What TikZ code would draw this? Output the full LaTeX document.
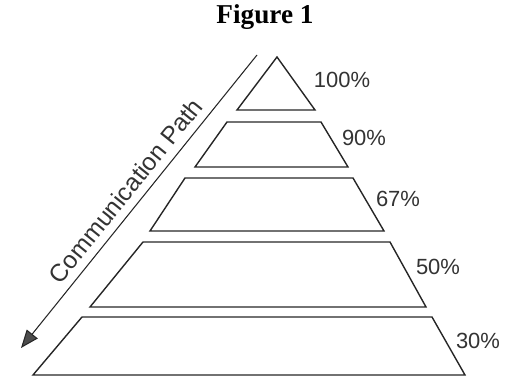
\documentclass[tikz,border=0pt]{standalone}
\usepackage{fontspec}
\setmainfont{Liberation Serif}
\setsansfont{Liberation Sans}
\usetikzlibrary{arrows.meta,positioning}

\begin{document}
\begin{tikzpicture}[
    tier/.style={draw=black!85, line width=0.8pt, line join=miter},
    pct/.style={font=\sffamily\fontsize{12.5}{14}\selectfont, text=black!80},
    patharrow/.style={-{Triangle[length=0.36cm, width=0.28cm, fill=black!70]}, draw=black!85, line width=0.6pt}
]
    \useasboundingbox (0,0) rectangle (10.16,7.56);

    \node[font=\bfseries\fontsize{15.5}{18}\selectfont] (title) at (5.30,7.22) {Figure 1};

    % pyramid, top to bottom
    \draw[tier] (5.54,6.42) -- (6.30,5.36) -- (4.74,5.36) -- cycle;
    \draw[tier] (4.54,5.12) -- (6.42,5.12) -- (6.96,4.22) -- (3.90,4.22) -- cycle;
    \draw[tier] (3.70,4.00) -- (7.06,4.00) -- (7.68,2.94) -- (3.00,2.94) -- cycle;
    \draw[tier] (2.86,2.72) -- (7.80,2.72) -- (8.52,1.42) -- (1.80,1.42) -- cycle;
    \draw[tier] (1.64,1.22) -- (8.64,1.22) -- (9.30,0.06) -- (0.66,0.06) -- cycle;

    \node[pct] (p100) at (6.84,5.96) {100\%};
    \node[pct] (p90)  at (7.28,4.80) {90\%};
    \node[pct] (p67)  at (7.96,3.58) {67\%};
    \node[pct] (p50)  at (8.76,2.22) {50\%};
    \node[pct] (p30)  at (9.56,0.74) {30\%};

    \coordinate (top) at (5.14,6.46);
    \coordinate (bottom) at (0.42,0.60);
    \draw[patharrow] (top) -- node[sloped, above=1pt, font=\sffamily\fontsize{14}{16}\selectfont, text=black!80] (commlabel) {Communication Path} (bottom);
\end{tikzpicture}
\end{document}
